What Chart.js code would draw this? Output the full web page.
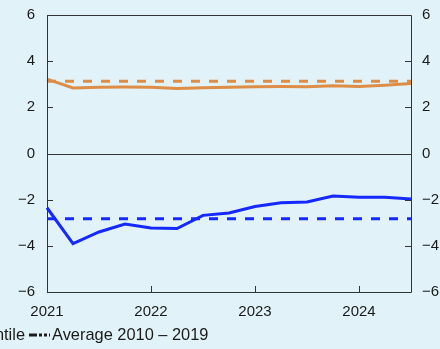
<!DOCTYPE html>
<html>
<head>
<meta charset="utf-8">
<script src="https://cdn.jsdelivr.net/npm/chart.js@4.4.1/dist/chart.umd.min.js"></script>
<style>
  html, body { margin: 0; padding: 0; background: #e1f3f8; }
  #wrap { width: 440px; height: 349px; }
</style>
</head>
<body>
<div id="wrap"><canvas id="chart" width="440" height="349"></canvas></div>
<script>
// quarterly categories, 2021 Q1 .. 2024 Q3
const quarters = [
    '2021 Q1', '2021 Q2', '2021 Q3', '2021 Q4',
    '2022 Q1', '2022 Q2', '2022 Q3', '2022 Q4',
    '2023 Q1', '2023 Q2', '2023 Q3', '2023 Q4',
    '2024 Q1', '2024 Q2', '2024 Q3'
];

const upperLine = [3.22, 2.84, 2.87, 2.88, 2.87, 2.82, 2.85, 2.87, 2.89, 2.90, 2.89, 2.93, 2.90, 2.96, 3.03];
const lowerLine = [-2.35, -3.90, -3.40, -3.06, -3.23, -3.25, -2.68, -2.58, -2.30, -2.13, -2.10, -1.84, -1.90, -1.90, -1.97];

const upperAverage = 3.13;
const lowerAverage = -2.83;

const yTicks = [-6, -4, -2, 0, 2, 4, 6];
const legendLabels = ['50th percentile', 'Average 2010 \u2013 2019'];

const colors = {
    orange: '#dd8d45',
    blue: '#1428ff',
    axis: '#333333',
    text: '#1a1a1a',
    bg: '#e1f3f8'
};

const fontFamily = '"Liberation Sans", Arial, Helvetica, sans-serif';

const minus = v => v < 0 ? '\u2212' + Math.abs(v) : String(v);

// frame round the chart area plus inward tick marks
const pluginFrame = {
    id: 'frame',
    afterDatasetsDraw(chart) {
        const {ctx, chartArea: {left, right, top, bottom}, scales} = chart;
        ctx.save();
        ctx.strokeStyle = colors.axis;
        ctx.lineWidth = 1;
        ctx.beginPath();
        ctx.rect(left + 0.5, top + 0.5, right - left, bottom - top);
        ctx.stroke();

        // zero line
        const y0 = Math.round(scales.y.getPixelForValue(0)) + 0.5;
        ctx.beginPath();
        ctx.moveTo(left, y0);
        ctx.lineTo(right, y0);
        ctx.stroke();

        const len = 6;
        ctx.beginPath();
        yTicks.forEach(v => {
            const y = Math.round(scales.y.getPixelForValue(v)) + 0.5;
            ctx.moveTo(left, y);
            ctx.lineTo(left + len, y);
            ctx.moveTo(right, y);
            ctx.lineTo(right - len, y);
        });
        quarters.forEach((q, i) => {
            if (!q.endsWith('Q1')) return;
            const x = Math.round(scales.x.getPixelForValue(i)) + 0.5;
            ctx.moveTo(x, bottom);
            ctx.lineTo(x, bottom - len);
        });
        ctx.stroke();
        ctx.restore();
    }
};

// legend drawn by hand, it runs off the left edge in the original
const pluginLegend = {
    id: 'customLegend',
    afterDraw(chart) {
        const {ctx} = chart;
        const y = 335;
        ctx.save();
        ctx.font = '16.4px ' + fontFamily;
        ctx.fillStyle = colors.text;
        ctx.textBaseline = 'middle';
        ctx.textAlign = 'right';
        ctx.fillText(legendLabels[0], 25, y);

        ctx.strokeStyle = colors.text;
        ctx.lineWidth = 3;
        ctx.setLineDash([8, 2, 3, 2, 3, 2]);
        ctx.beginPath();
        ctx.moveTo(29, y);
        ctx.lineTo(50, y);
        ctx.stroke();
        ctx.setLineDash([]);

        ctx.textAlign = 'left';
        ctx.fillText(legendLabels[1], 52, y);
        ctx.restore();
    }
};

// fixed axis widths, and no extra room for half labels at top/bottom
const fitY = (width) => (scale) => {
    scale.width = width;
    scale.paddingTop = 0;
    scale.paddingBottom = 0;
};

const config = {
    type: 'line',
    data: {
        labels: quarters,
        datasets: [
            {
                label: legendLabels[0] + ' upper',
                data: upperLine,
                borderColor: colors.orange,
                borderWidth: 3,
                pointRadius: 0,
                tension: 0,
                order: 1
            },
            {
                label: legendLabels[0] + ' lower',
                data: lowerLine,
                borderColor: colors.blue,
                borderWidth: 3,
                pointRadius: 0,
                tension: 0,
                order: 2
            },
            {
                label: legendLabels[1] + ' upper',
                data: quarters.map(() => upperAverage),
                borderColor: colors.orange,
                borderWidth: 3,
                borderDash: [9, 9],
                pointRadius: 0,
                order: 3
            },
            {
                label: legendLabels[1] + ' lower',
                data: quarters.map(() => lowerAverage),
                borderColor: colors.blue,
                borderWidth: 3,
                borderDash: [9, 9],
                pointRadius: 0,
                order: 4
            }
        ]
    },
    plugins: [pluginFrame, pluginLegend],
    options: {
        responsive: false,
        animation: false,
        layout: {
            padding: { top: 15, left: 0, right: 0, bottom: 0 }
        },
        plugins: {
            legend: { display: false },
            tooltip: { enabled: false }
        },
        scales: {
            x: {
                type: 'category',
                offset: false,
                grid: { display: false, drawTicks: false },
                border: { display: false },
                afterFit: (scale) => { scale.height = 57; },
                ticks: {
                    autoSkip: false,
                    maxRotation: 0,
                    padding: 11,
                    color: colors.text,
                    font: { family: fontFamily, size: 15 },
                    callback: function (value) {
                        const q = this.getLabelForValue(value);
                        return q.endsWith('Q1') ? q.slice(0, 4) : '';
                    }
                }
            },
            y: {
                position: 'left',
                min: -6,
                max: 6,
                grid: { display: false, drawTicks: false },
                border: { display: false },
                afterFit: fitY(47),
                afterBuildTicks: (ax) => { ax.ticks = yTicks.map(value => ({ value })); },
                ticks: {
                    padding: 12,
                    color: colors.text,
                    font: { family: fontFamily, size: 15 },
                    callback: (v) => minus(v)
                }
            },
            y2: {
                position: 'right',
                min: -6,
                max: 6,
                grid: { display: false, drawTicks: false },
                border: { display: false },
                afterFit: fitY(29),
                afterBuildTicks: (ax) => { ax.ticks = yTicks.map(value => ({ value })); },
                ticks: {
                    padding: 11,
                    color: colors.text,
                    font: { family: fontFamily, size: 15 },
                    callback: (v) => minus(v)
                }
            }
        }
    }
};

new Chart(document.getElementById('chart'), config);
</script>
</body>
</html>
